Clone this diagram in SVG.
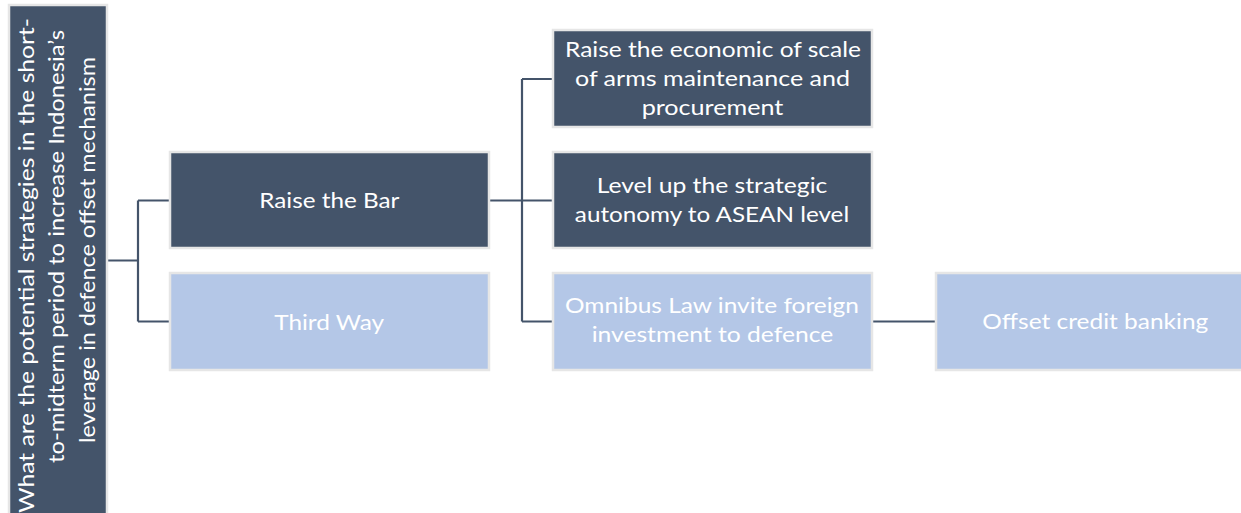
<svg xmlns="http://www.w3.org/2000/svg" width="1241" height="513" viewBox="0 0 1241 513">
<style>
.dark{fill:#44546a;stroke:#e6e6e6;stroke-width:2.5}
.light{fill:#b4c7e7;stroke:#e6e6e6;stroke-width:2.5}
.t{font-family:Lato,"Noto Sans",sans-serif;font-size:22px;fill:#ffffff;text-anchor:middle}
.c{fill:none;stroke:#44546a;stroke-width:2.2}
</style>
<rect width="1241" height="513" fill="#ffffff"/>
<g id="connectors">
<path class="c" d="M107,260.5 H138 M138,200.5 V321.5 M138,200.5 H170 M138,321.5 H170"/>
<path class="c" d="M489,200.5 H522 M522,79 V321.5 M522,79 H553 M522,200.5 H553 M522,321.5 H553"/>
<path class="c" d="M872,321.5 H936"/>
</g>
<g id="root">
<rect class="dark" x="9" y="5" width="98" height="520"/>
<g transform="rotate(-90)">
<text class="t" x="-265.5" y="33.5" textLength="495" lengthAdjust="spacingAndGlyphs">What are the potential strategies in the  short-</text>
<text class="t" x="-246.5" y="64" textLength="433" lengthAdjust="spacingAndGlyphs">to-midterm period to increase Indonesia’s</text>
<text class="t" x="-250" y="94.5" textLength="386" lengthAdjust="spacingAndGlyphs">leverage in defence offset mechanism</text>
</g>
</g>
<g id="raise-bar">
<rect class="dark" x="170" y="152" width="319" height="96"/>
<text class="t" x="329.3" y="207.5" textLength="140" lengthAdjust="spacingAndGlyphs">Raise the Bar</text>
</g>
<g id="third-way">
<rect class="light" x="170" y="273" width="319" height="97"/>
<text class="t" x="329.2" y="330" textLength="110" lengthAdjust="spacingAndGlyphs">Third Way</text>
</g>
<g id="economic-scale">
<rect class="dark" x="553" y="30" width="319" height="97"/>
<text class="t" x="713" y="57" textLength="296" lengthAdjust="spacingAndGlyphs">Raise the economic of scale</text>
<text class="t" x="712.5" y="86" textLength="275" lengthAdjust="spacingAndGlyphs">of arms maintenance and</text>
<text class="t" x="712.5" y="115" textLength="141.7" lengthAdjust="spacingAndGlyphs">procurement</text>
</g>
<g id="strategic-autonomy">
<rect class="dark" x="553" y="152" width="319" height="96"/>
<text class="t" x="712" y="192.7" textLength="230.7" lengthAdjust="spacingAndGlyphs">Level up the strategic</text>
<text class="t" x="712" y="221.7" textLength="274.3" lengthAdjust="spacingAndGlyphs">autonomy to ASEAN level</text>
</g>
<g id="omnibus-law">
<rect class="light" x="553" y="273" width="319" height="97"/>
<text class="t" x="712" y="313.3" textLength="294" lengthAdjust="spacingAndGlyphs">Omnibus Law invite foreign</text>
<text class="t" x="712.5" y="341.7" textLength="241.7" lengthAdjust="spacingAndGlyphs">investment to defence</text>
</g>
<g id="offset-credit">
<rect class="light" x="936" y="273" width="319" height="97"/>
<text class="t" x="1095.3" y="329.3" textLength="226" lengthAdjust="spacingAndGlyphs">Offset credit banking</text>
</g>
</svg>
